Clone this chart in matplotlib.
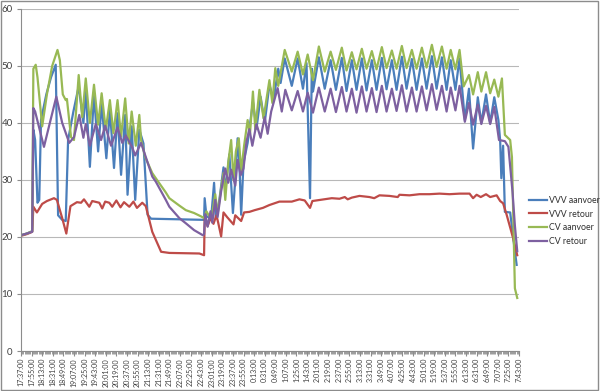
import matplotlib
matplotlib.use("Agg")
import matplotlib.pyplot as plt
from matplotlib.patches import Rectangle

# minutes after 17:37, values in degrees
t_vvv_aanvoer = [0, 10, 19, 21, 24, 28, 31, 34, 43, 51, 59, 63, 70, 76, 80, 89, 98, 106, 110, 117,
                 124, 131, 137, 145, 151, 158, 164, 170, 177, 181, 188, 194, 201, 208, 215, 221, 311, 312,
                 315, 323, 328, 331, 337, 344, 347, 354, 360, 364, 368, 371, 374, 378, 385, 394, 400, 407,
                 414, 422, 429, 437, 441, 448, 460, 470, 479, 485, 491, 494, 496, 506, 516, 526, 535, 545,
                 553, 562, 570, 579, 587, 596, 604, 613, 621, 630, 638, 647, 655, 664, 672, 681, 689, 698,
                 706, 715, 723, 730, 738, 745, 754, 761, 768, 776, 782, 790, 797, 804, 811, 814, 816, 819,
                 822, 831, 836, 842]
vvv_aanvoer = [20.3, 20.6, 21.0, 38.8, 37.0, 26.0, 26.5, 40.5, 45.0, 48.0, 50.2, 23.8, 23.0, 22.8, 37.0,
               42.0, 46.4, 40.0, 45.8, 32.3, 45.0, 35.0, 43.3, 33.8, 42.3, 32.1, 41.7, 30.9, 41.4, 27.4,
               39.4, 26.5, 38.8, 36.4, 23.9, 23.2, 23.0, 26.8, 23.6, 23.3, 29.5, 23.3, 26.5, 32.2, 28.0,
               34.5, 24.2, 30.0, 37.3, 33.0, 23.9, 33.0, 36.5, 43.7, 39.0, 44.6, 40.0, 46.7, 44.0, 49.5,
               47.0, 51.3, 46.5, 51.3, 46.0, 50.5, 26.8, 49.5, 45.5, 51.5, 46.0, 51.0, 45.8, 51.4, 45.6,
               51.0, 45.8, 51.3, 45.7, 51.0, 45.8, 51.4, 45.9, 51.0, 45.8, 51.6, 46.0, 51.2, 45.8, 51.3,
               46.0, 51.7, 46.0, 51.5, 45.8, 51.0, 45.8, 51.3, 40.5, 46.0, 35.5, 44.5, 40.0, 45.0, 40.0,
               44.5, 40.5, 36.9, 30.3, 36.0, 24.4, 24.3, 20.0, 15.1]

t_vvv_retour = [0, 10, 19, 21, 27, 36, 44, 56, 61, 70, 77, 84, 95, 102, 107, 116, 121, 133, 138, 143,
                150, 155, 162, 169, 175, 184, 191, 197, 206, 212, 223, 238, 252, 303, 311, 312, 317, 322,
                327, 332, 335, 340, 344, 350, 361, 364, 374, 379, 388, 397, 411, 422, 439, 460, 473, 482,
                491, 495, 528, 541, 550, 555, 562, 575, 592, 600, 609, 626, 640, 643, 660, 677, 694, 711,
                728, 745, 762, 768, 774, 781, 790, 797, 808, 814, 819, 825, 836, 843]
vvv_retour = [20.2, 20.5, 20.9, 25.3, 24.3, 25.8, 26.3, 26.8, 26.5, 23.3, 20.6, 25.4, 26.1, 26.0, 26.6,
              25.3, 26.3, 26.0, 25.0, 26.2, 26.0, 25.3, 26.4, 25.2, 26.1, 25.3, 26.2, 25.1, 26.0, 25.4,
              20.9, 17.4, 17.2, 17.1, 16.8, 23.3, 21.9, 23.3, 22.3, 23.8, 22.5, 20.1, 24.3, 23.5, 22.2,
              23.8, 22.8, 24.3, 24.4, 24.7, 25.1, 25.6, 26.2, 26.2, 26.6, 26.4, 25.1, 26.3, 26.8, 26.7,
              27.0, 26.6, 26.9, 27.2, 27.0, 26.8, 27.3, 27.2, 27.0, 27.4, 27.3, 27.5, 27.5, 27.6, 27.5,
              27.6, 27.6, 26.8, 27.4, 27.0, 27.5, 27.0, 27.3, 26.3, 25.9, 23.9, 19.8, 16.8]

t_cv_aanvoer = [0, 10, 19, 21, 25, 28, 36, 44, 53, 62, 66, 71, 76, 78, 85, 90, 98, 104, 110, 117,
                124, 131, 137, 144, 151, 157, 164, 170, 177, 183, 188, 195, 201, 204, 211, 223, 229, 246,
                252, 269, 280, 294, 306, 311, 315, 320, 325, 330, 334, 340, 344, 347, 352, 357, 361, 365,
                370, 374, 379, 385, 389, 394, 398, 405, 412, 422, 427, 432, 437, 448, 460, 470, 479, 487,
                496, 506, 516, 526, 535, 545, 553, 562, 570, 579, 587, 596, 604, 613, 621, 630, 638, 647,
                655, 664, 672, 681, 689, 698, 706, 715, 723, 730, 738, 745, 752, 761, 768, 776, 782, 790,
                797, 804, 811, 817, 822, 831, 834, 839, 843]
cv_aanvoer = [20.3, 20.6, 21.0, 49.5, 50.2, 48.0, 39.4, 45.0, 50.0, 52.8, 51.0, 45.0, 44.0, 44.2, 37.5,
              37.0, 48.4, 41.0, 47.8, 40.0, 46.7, 39.7, 45.2, 38.8, 44.0, 38.2, 44.0, 37.6, 44.3, 36.4,
              42.0, 36.0, 41.4, 37.0, 34.0, 31.2, 30.3, 27.8, 26.8, 25.5, 24.7, 24.2, 23.6, 23.3, 24.5,
              23.6, 24.2, 27.5, 24.0, 28.5, 31.2, 26.5, 33.0, 37.0, 30.0, 35.0, 37.3, 31.5, 36.0, 40.5,
              38.0, 45.5, 38.8, 45.8, 40.8, 47.5, 43.5, 49.6, 46.5, 52.8, 49.0, 52.5, 48.5, 52.0, 47.5,
              53.4, 49.0, 52.5, 49.3, 53.2, 49.2, 52.4, 49.4, 53.0, 49.5, 52.6, 49.4, 53.3, 49.6, 52.7,
              49.5, 53.5, 49.6, 52.8, 49.5, 53.2, 49.7, 53.7, 49.8, 53.4, 49.5, 52.8, 49.4, 52.8, 46.4,
              48.4, 45.0, 48.9, 45.5, 48.9, 45.2, 47.6, 44.6, 47.8, 37.9, 37.0, 34.0, 11.0, 9.3]

t_cv_retour = [0, 10, 19, 21, 24, 39, 60, 70, 82, 90, 99, 106, 110, 117, 127, 136, 143, 153, 164, 172,
               178, 189, 194, 204, 223, 229, 246, 252, 269, 280, 294, 309, 311, 313, 317, 322, 325, 330,
               334, 340, 347, 352, 357, 364, 368, 373, 378, 383, 388, 393, 400, 407, 414, 419, 425, 436,
               443, 449, 460, 470, 479, 487, 496, 506, 516, 526, 535, 545, 553, 562, 570, 579, 587, 596,
               604, 613, 621, 630, 638, 647, 655, 664, 672, 681, 689, 698, 706, 715, 723, 730, 738, 745,
               754, 761, 768, 776, 782, 790, 797, 804, 812, 822, 828, 835, 839, 843]
cv_retour = [20.3, 20.6, 20.9, 42.6, 42.0, 35.8, 44.6, 40.0, 36.5, 37.5, 41.4, 37.4, 39.8, 36.0, 39.8,
             37.0, 39.5, 36.0, 39.2, 36.5, 37.8, 35.7, 34.3, 36.5, 30.6, 29.7, 26.5, 25.3, 23.3, 22.4,
             21.2, 20.3, 20.5, 24.0, 21.8, 24.5, 22.5, 26.5, 23.5, 28.0, 32.0, 29.5, 31.8, 29.0, 33.5,
             30.8, 32.0, 36.7, 38.9, 36.0, 39.8, 37.4, 41.0, 38.1, 42.0, 46.1, 42.0, 45.8, 42.2, 45.6,
             42.0, 45.3, 41.8, 46.2, 42.0, 46.0, 41.9, 46.3, 42.0, 46.0, 41.8, 46.4, 42.0, 46.1, 41.9,
             46.5, 42.0, 46.0, 42.1, 46.6, 42.0, 46.2, 42.0, 46.4, 42.2, 46.8, 42.3, 46.5, 42.0, 46.2,
             42.2, 46.5, 40.2, 43.5, 39.7, 43.2, 39.8, 43.0, 39.8, 42.8, 37.0, 36.8, 35.8, 27.9, 22.0,
             17.5]

series = [
    ("VVV aanvoer", t_vvv_aanvoer, vvv_aanvoer, "#4A7EBB"),
    ("VVV retour", t_vvv_retour, vvv_retour, "#BE4B48"),
    ("CV aanvoer", t_cv_aanvoer, cv_aanvoer, "#98B954"),
    ("CV retour", t_cv_retour, cv_retour, "#7D60A0"),
]

# tick labels every 18 minutes from 17:37 to 7:43
tick_minutes = list(range(0, 847, 18))


def minuteLabel(m):
    total = 17 * 60 + 37 + m
    h = (total // 60) % 24
    return "%d:%02d:00" % (h, total % 60)


plt.rcParams['font.family'] = ['Lato', 'DejaVu Sans']

fig = plt.figure(figsize=(6, 3.91), dpi=100)
ax = fig.add_axes([0.035, 0.1023, 0.83, 0.875])

for name, t, v, c in series:
    ax.plot(t, v, color=c, lw=1.6, label=name, solid_joinstyle='round')

ax.set_xlim(0, 846)
ax.set_ylim(0, 60)
ax.set_yticks(range(0, 61, 10))
ax.set_xticks(tick_minutes)
ax.set_xticklabels([minuteLabel(m) for m in tick_minutes], rotation=90, fontsize=5.1, color='#404040')
ax.set_xticks(range(0, 847, 2), minor=True)
ax.tick_params(axis='y', labelsize=7, colors='#404040', length=3, color='#8c8c8c', pad=3)
ax.tick_params(axis='x', which='major', length=3.5, color='#8c8c8c', pad=1.5)
ax.tick_params(axis='x', which='minor', length=2, color='#8c8c8c', width=0.6)
ax.grid(axis='y', color='#b8b8b8', lw=0.8)
ax.set_axisbelow(True)
for s in ['top', 'right']:
    ax.spines[s].set_visible(False)
for s in ['left', 'bottom']:
    ax.spines[s].set_color('#8c8c8c')
    ax.spines[s].set_linewidth(0.8)

fig.legend(loc='center left', bbox_to_anchor=(0.872, 0.435), frameon=False, fontsize=6.3,
           handlelength=2.0, handletextpad=0.25, labelspacing=0.55, labelcolor='#303030',
           borderpad=0.2)

fig.patches.append(Rectangle((0.002, 0.003), 0.995, 0.994, transform=fig.transFigure,
                             fill=False, edgecolor='#8c8c8c', lw=1))

plt.savefig('out.png', dpi=100)
plt.close('all')
